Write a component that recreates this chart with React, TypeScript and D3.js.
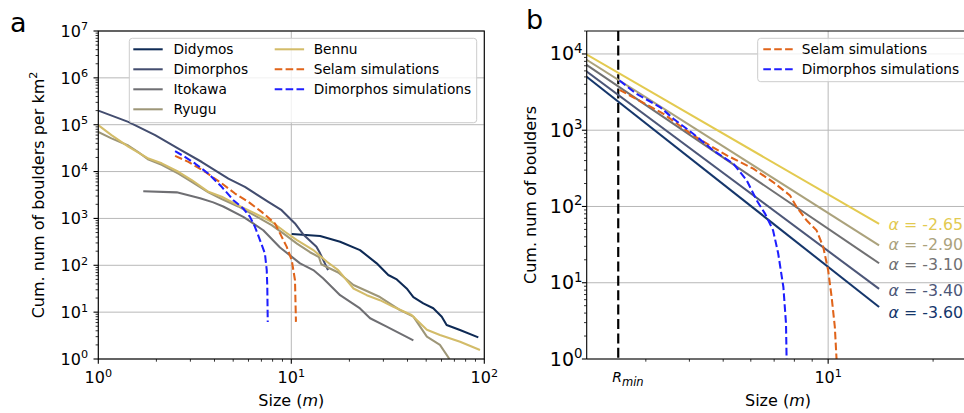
import React from "react";
import * as d3 from "d3";

const W = 964;
const H = 413;
const FONT = "'DejaVu Sans', Verdana, sans-serif";

// ---------- Panel a : cumulative boulders per km² vs size (m)
const didymosSize = [10.05, 14.1, 17.9, 22.7, 27.7, 31.8, 35.2, 39.6, 42.9, 48.3, 54.4, 60.2, 63.8, 74.8, 93.1];
const didymosCount = [463, 420, 317, 211, 110, 62, 50, 32, 21, 15.4, 12.1, 8.0, 5.3, 4.15, 2.9];

const dimorphosSize = [1.0, 1.43, 1.97, 2.6, 3.44, 4.72, 5.75, 7.6, 8.91, 10.45, 11.5, 13.5, 14.1, 15.5];
const dimorphosCount = [2.0e5, 1.15e5, 6.0e4, 3.1e4, 1.6e4, 7.1e3, 4.7e3, 2.26e3, 1.5e3, 780, 460, 250, 180, 79];

const itokawaSize = [1.71, 2.55, 3.37, 3.94, 4.44, 5.64, 7.16, 8.74, 11.1, 13.0, 14.6, 17.9, 22.7, 25.6, 31.2, 42.9];
const itokawaCount = [3800, 3600, 2700, 2200, 1800, 1080, 560, 240, 110, 79, 53, 23, 12, 7.4, 4.9, 2.5];

const ryuguSize = [1.0, 1.17, 1.43, 1.61, 1.82, 2.13, 2.6, 3.05, 3.72, 4.36, 5.31, 6.48, 7.91, 9.27, 10.7, 12.5, 13.9, 14.3, 17.5, 21.0, 28.8, 36.6, 42.9, 50.4, 58.9, 66];
const ryuguCount = [7.0e4, 5.1e4, 3.6e4, 2.6e4, 1.8e4, 1.4e4, 9.0e3, 6.0e3, 3.6e3, 2.6e3, 1.8e3, 1.15e3, 720, 450, 290, 190, 150, 105, 70, 38, 21, 11, 8.0, 3.0, 2.0, 1.0];

const bennuSize = [1.0, 1.17, 1.43, 1.82, 2.13, 2.6, 3.05, 3.72, 4.36, 5.31, 6.48, 7.91, 9.27, 10.7, 13.0, 15.3, 17.5, 21.0, 24.6, 28.8, 33.8, 42.0, 50.4, 58.9, 74.9, 95.0];
const bennuCount = [9.8e4, 6.0e4, 3.4e4, 1.9e4, 1.5e4, 9.9e3, 6.6e3, 3.7e3, 2.9e3, 1.9e3, 1.28e3, 850, 520, 344, 211, 119, 79, 32, 23, 18, 13, 8.7, 4.2, 3.25, 2.34, 1.56];

const selamSimSizeA = [2.5, 2.93, 3.57, 4.36, 5.11, 5.99, 7.02, 8.23, 8.74, 9.46, 10.05, 10.45, 10.57];
const selamSimCountA = [2.16e4, 1.61e4, 9.9e3, 5.6e3, 3.4e3, 2.26e3, 1.38e3, 780, 480, 250, 129, 48, 6.2];

const dimSimSizeA = [2.5, 2.81, 3.17, 3.71, 4.36, 5.01, 5.64, 6.11, 6.48, 6.88, 7.3, 7.46, 7.51, 7.55];
const dimSimCountA = [2.72e4, 2.06e4, 1.49e4, 9.1e3, 4.72e3, 2.45e3, 1.63e3, 1.08e3, 662, 345, 179, 79, 34.5, 6.15];

const legendNamesA = ["Didymos", "Dimorphos", "Itokawa", "Ryugu", "Bennu", "Selam simulations", "Dimorphos simulations"];

// ---------- Panel b : cumulative number of boulders vs size (m)
const rMin = 2.5;
const alphaValues = [-2.65, -2.9, -3.1, -3.4, -3.6];
const alphaLabels = ["-2.65", "-2.90", "-3.10", "-3.40", "-3.60"];
const fitStartSize = 2.0;
const fitEndSize = 14;
const fitEndCount = [59, 31, 18, 8.3, 4.8];

const selamSimSizeB = [2.52, 3.37, 4.1, 4.49, 5.12, 6.1, 6.95, 7.77, 8.12, 8.67, 9.26, 9.68, 10.0, 10.23, 10.45, 10.57];
const selamSimCountB = [3390, 1640, 855, 666, 468, 313, 209, 140, 98.5, 66, 48.8, 29.5, 14.6, 6.54, 2.65, 1.0];

const dimSimSizeB = [2.52, 2.82, 3.3, 3.6, 4.1, 4.68, 5.35, 5.84, 6.24, 6.59, 6.95, 7.19, 7.44, 7.57, 7.6];
const dimSimCountB = [4490, 3000, 2000, 1415, 900, 545, 364, 220, 120, 80.7, 48.8, 24.2, 8.8, 2.93, 1.0];

const legendNamesB = ["Selam simulations", "Dimorphos simulations"];

// ---------- styles
const C = {
  didymos: "#0e2a55",
  dimorphos: "#434d6f",
  itokawa: "#6f6f73",
  ryugu: "#9d9678",
  bennu: "#d3bc69",
  selam: "#e0641a",
  dimSim: "#1e1eff",
};
const fitColors = ["#e3ca50", "#aba27c", "#707072", "#4d5778", "#15366b"];
const DASH = "7.6 3.3";
const GRID = "#b8b8b8";

const A = { left: 98.3, right: 484.3, top: 31, bottom: 359 };
const B = { left: 586.7, right: 969.3, top: 31, bottom: 359 };

const xA = d3.scaleLog().domain([1, 100]).range([A.left, A.right]);
const yA = d3.scaleLog().domain([1, 1e7]).range([A.bottom, A.top]);
const xB = d3.scaleLog().domain([2.03, 25.4]).range([B.left, B.right]);
const yB = d3.scaleLog().domain([1, 2e4]).range([B.bottom, B.top]);

function majors(lo: number, hi: number) {
  const out: number[] = [];
  for (let e = Math.floor(Math.log10(lo)); e <= Math.ceil(Math.log10(hi)); e++) {
    const v = Math.pow(10, e);
    if (v >= lo * (1 - 1e-9) && v <= hi * (1 + 1e-9)) out.push(v);
  }
  return out;
}
function minors(lo: number, hi: number) {
  const out: number[] = [];
  for (let e = Math.floor(Math.log10(lo)); e <= Math.ceil(Math.log10(hi)); e++) {
    for (let k = 2; k <= 9; k++) {
      const v = k * Math.pow(10, e);
      if (v >= lo * (1 - 1e-9) && v <= hi * (1 + 1e-9)) out.push(v);
    }
  }
  return out;
}

const lineGen = d3.line<[number, number]>();
function path(xs: number[], ys: number[], sx: any, sy: any) {
  return lineGen(xs.map((s, i) => [sx(s), sy(ys[i])] as [number, number])) || "";
}

function Pow10({ x, y, e, anchor, fs }: { x: number; y: number; e: number; anchor: string; fs: number }) {
  return (
    <text x={x} y={y} textAnchor={anchor as any} fontSize={fs} fontFamily={FONT} fill="#000">
      10
      <tspan dy={-fs * 0.4} fontSize={fs * 0.7}>
        {e}
      </tspan>
    </text>
  );
}

const seriesA = [
  { size: didymosSize, count: didymosCount, color: C.didymos, dash: "" },
  { size: dimorphosSize, count: dimorphosCount, color: C.dimorphos, dash: "" },
  { size: itokawaSize, count: itokawaCount, color: C.itokawa, dash: "" },
  { size: ryuguSize, count: ryuguCount, color: C.ryugu, dash: "" },
  { size: bennuSize, count: bennuCount, color: C.bennu, dash: "" },
  { size: selamSimSizeA, count: selamSimCountA, color: C.selam, dash: DASH },
  { size: dimSimSizeA, count: dimSimCountA, color: C.dimSim, dash: DASH },
];

const TICK_FS = 16;
const TICK_FS_BY = 19;
const LEG_FS = 13.7;

export default function App() {
  const axMajX = majors(1, 100);
  const axMajY = majors(1, 1e7);
  const axMinX = minors(1, 100);
  const axMinY = minors(1, 1e7);

  const bxMaj = majors(2.03, 25.4);
  const bxMin = minors(2.03, 25.4);
  const byMaj = majors(1, 2e4);
  const byMin = minors(1, 2e4);

  const legRowY = [49.3, 69.3, 89.3, 109.3];

  return (
    <svg width={W} height={H} style={{ display: "block", position: "absolute", left: 0, top: 0 }} fontFamily={FONT}>
      <defs>
        <clipPath id="clipA">
          <rect x={A.left} y={A.top} width={A.right - A.left} height={A.bottom - A.top} />
        </clipPath>
        <clipPath id="clipB">
          <rect x={B.left} y={B.top} width={B.right - B.left} height={B.bottom - B.top} />
        </clipPath>
      </defs>
      <rect x={0} y={0} width={W} height={H} fill="#fff" />

      {/* ================= Panel a ================= */}
      <g>
        {axMajX.map((v) => (
          <line key={"gxa" + v} x1={xA(v)} x2={xA(v)} y1={A.top} y2={A.bottom} stroke={GRID} strokeWidth={1} />
        ))}
        {axMajY.map((v) => (
          <line key={"gya" + v} x1={A.left} x2={A.right} y1={yA(v)} y2={yA(v)} stroke={GRID} strokeWidth={1} />
        ))}
        <g clipPath="url(#clipA)">
          {seriesA.map((s, i) => (
            <path
              key={"sa" + i}
              d={path(s.size, s.count, xA, yA)}
              fill="none"
              stroke={s.color}
              strokeWidth={2.05}
              strokeDasharray={s.dash || undefined}
              strokeLinejoin="round"
            />
          ))}
        </g>
        {/* legend */}
        <rect x={129.3} y={38.3} width={347.4} height={84.4} rx={3} fill="#fff" fillOpacity={0.8} stroke="#cccccc" strokeWidth={1} />
        {legendNamesA.map((name, i) => {
          const col = i < 4 ? 0 : 1;
          const row = i < 4 ? i : i - 4;
          const hx = col === 0 ? 133.3 : 274.7;
          const tx = col === 0 ? 173.5 : 313.7;
          const y = legRowY[row];
          const s = seriesA[i];
          return (
            <g key={"la" + i}>
              <line x1={hx} x2={hx + 29.4} y1={y} y2={y} stroke={s.color} strokeWidth={2.05} strokeDasharray={s.dash || undefined} />
              <text x={tx} y={y + 5} fontSize={LEG_FS} fill="#000">
                {name}
              </text>
            </g>
          );
        })}
        {/* spines */}
        <rect x={A.left} y={A.top} width={A.right - A.left} height={A.bottom - A.top} fill="none" stroke="#000" strokeWidth={1.1} />
        {/* ticks */}
        {axMajX.map((v) => (
          <line key={"txa" + v} x1={xA(v)} x2={xA(v)} y1={A.bottom} y2={A.bottom + 4.8} stroke="#000" strokeWidth={1.1} />
        ))}
        {axMinX.map((v) => (
          <line key={"mxa" + v} x1={xA(v)} x2={xA(v)} y1={A.bottom} y2={A.bottom + 2.7} stroke="#000" strokeWidth={0.8} />
        ))}
        {axMajY.map((v) => (
          <line key={"tya" + v} x1={A.left - 4.8} x2={A.left} y1={yA(v)} y2={yA(v)} stroke="#000" strokeWidth={1.1} />
        ))}
        {axMinY.map((v) => (
          <line key={"mya" + v} x1={A.left - 2.7} x2={A.left} y1={yA(v)} y2={yA(v)} stroke="#000" strokeWidth={0.8} />
        ))}
        {axMajX.map((v) => (
          <Pow10 key={"lxa" + v} x={xA(v)} y={383.3} e={Math.round(Math.log10(v))} anchor="middle" fs={TICK_FS} />
        ))}
        {axMajY.map((v) => (
          <Pow10 key={"lya" + v} x={88} y={yA(v) + 5.8} e={Math.round(Math.log10(v))} anchor="end" fs={TICK_FS} />
        ))}
        <text x={(A.left + A.right) / 2} y={406} textAnchor="middle" fontSize={16}>
          Size (<tspan fontStyle="italic">m</tspan>)
        </text>
        <text transform={`translate(43.5,${(A.top + A.bottom) / 2}) rotate(-90)`} textAnchor="middle" fontSize={16}>
          Cum. num of boulders per km
          <tspan dy={-6.5} fontSize={11.2}>
            2
          </tspan>
        </text>
        <text x={10} y={31.5} fontSize={27}>
          a
        </text>
      </g>

      {/* ================= Panel b ================= */}
      <g>
        {bxMaj.map((v) => (
          <line key={"gxb" + v} x1={xB(v)} x2={xB(v)} y1={B.top} y2={B.bottom} stroke={GRID} strokeWidth={1} />
        ))}
        {byMaj.map((v) => (
          <line key={"gyb" + v} x1={B.left} x2={B.right} y1={yB(v)} y2={yB(v)} stroke={GRID} strokeWidth={1} />
        ))}
        <g clipPath="url(#clipB)">
          <line x1={xB(rMin)} x2={xB(rMin)} y1={B.top} y2={B.bottom} stroke="#000" strokeWidth={2.2} strokeDasharray="10 4.4" />
          {alphaValues.map((a, i) => {
            const startCount = fitEndCount[i] * Math.pow(fitStartSize / fitEndSize, a);
            return (
              <path
                key={"fit" + i}
                d={path([fitStartSize, fitEndSize], [startCount, fitEndCount[i]], xB, yB)}
                fill="none"
                stroke={fitColors[i]}
                strokeWidth={2.05}
              />
            );
          })}
          <path d={path(selamSimSizeB, selamSimCountB, xB, yB)} fill="none" stroke={C.selam} strokeWidth={2.05} strokeDasharray={DASH} />
          <path d={path(dimSimSizeB, dimSimCountB, xB, yB)} fill="none" stroke={C.dimSim} strokeWidth={2.05} strokeDasharray={DASH} />
        </g>
        {alphaValues.map((a, i) => (
          <text
            key={"al" + i}
            x={xB(fitEndSize) + 9.5}
            y={yB(fitEndCount[i]) + [6, 5, 7, 7, 11][i]}
            fontSize={15.8}
            fill={fitColors[i]}
          >
            <tspan fontStyle="italic">α</tspan> = {alphaLabels[i]}
          </text>
        ))}
        {/* legend */}
        <rect x={757.7} y={38.3} width={240} height={43.4} rx={3} fill="#fff" fillOpacity={0.8} stroke="#cccccc" strokeWidth={1} />
        {legendNamesB.map((name, i) => {
          const y = legRowY[i];
          const color = i === 0 ? C.selam : C.dimSim;
          return (
            <g key={"lb" + i}>
              <line x1={763.3} x2={792.7} y1={y} y2={y} stroke={color} strokeWidth={2.05} strokeDasharray={DASH} />
              <text x={801.7} y={y + 5} fontSize={LEG_FS} fill="#000">
                {name}
              </text>
            </g>
          );
        })}
        {/* spines */}
        <line x1={B.left} x2={B.left} y1={B.top} y2={B.bottom} stroke="#000" strokeWidth={1.1} />
        <line x1={B.left} x2={B.right} y1={B.top} y2={B.top} stroke="#000" strokeWidth={1.1} />
        <line x1={B.left} x2={B.right} y1={B.bottom} y2={B.bottom} stroke="#000" strokeWidth={1.1} />
        <line x1={B.right} x2={B.right} y1={B.top} y2={B.bottom} stroke="#000" strokeWidth={1.1} />
        {bxMaj.map((v) => (
          <line key={"txb" + v} x1={xB(v)} x2={xB(v)} y1={B.bottom} y2={B.bottom + 4.8} stroke="#000" strokeWidth={1.1} />
        ))}
        {bxMin.map((v) => (
          <line key={"mxb" + v} x1={xB(v)} x2={xB(v)} y1={B.bottom} y2={B.bottom + 2.7} stroke="#000" strokeWidth={0.8} />
        ))}
        {byMaj.map((v) => (
          <line key={"tyb" + v} x1={B.left - 4.8} x2={B.left} y1={yB(v)} y2={yB(v)} stroke="#000" strokeWidth={1.1} />
        ))}
        {byMin.map((v) => (
          <line key={"myb" + v} x1={B.left - 2.7} x2={B.left} y1={yB(v)} y2={yB(v)} stroke="#000" strokeWidth={0.8} />
        ))}
        {bxMaj.map((v) => (
          <Pow10 key={"lxb" + v} x={xB(v)} y={383.3} e={Math.round(Math.log10(v))} anchor="middle" fs={TICK_FS} />
        ))}
        {byMaj.map((v) => (
          <Pow10 key={"lyb" + v} x={582.5} y={yB(v) + 6.5} e={Math.round(Math.log10(v))} anchor="end" fs={TICK_FS_BY} />
        ))}
        <text x={xB(rMin) - 6} y={382} fontSize={14} fontStyle="italic">
          R
          <tspan dy={3.5} fontSize={11.5}>
            min
          </tspan>
        </text>
        <text x={(B.left + B.right) / 2} y={406} textAnchor="middle" fontSize={16}>
          Size (<tspan fontStyle="italic">m</tspan>)
        </text>
        <text transform={`translate(535.5,${(B.top + B.bottom) / 2}) rotate(-90)`} textAnchor="middle" fontSize={16}>
          Cum. num of boulders
        </text>
        <text x={526} y={29} fontSize={27}>
          b
        </text>
      </g>
    </svg>
  );
}
